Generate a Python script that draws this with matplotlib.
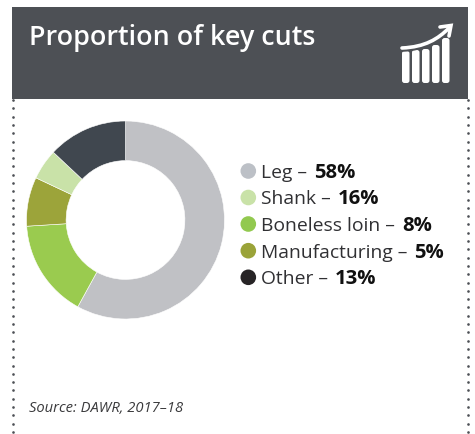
import matplotlib
matplotlib.use("Agg")
import matplotlib.pyplot as plt
from matplotlib.patches import Rectangle, FancyBboxPatch, PathPatch, Circle
from matplotlib.path import Path
import numpy as np

W, H = 475, 434

title = "Proportion of key cuts"
source = "Source: DAWR, 2017–18"
cuts = ["Leg", "Shank", "Boneless loin", "Manufacturing", "Other"]
shares = [58, 16, 8, 5, 13]
legend_colors = ["#bcc0c6", "#c9e2a8", "#92c94f", "#9aa339", "#272426"]
slice_colors = ["#c0c1c5", "#9acb4f", "#9ca43a", "#c9e2a8", "#40474f"]

plt.rcParams["font.family"] = ["Open Sans", "DejaVu Sans"]

fig = plt.figure(figsize=(W / 100, H / 100), dpi=100, facecolor="white")

# page layer in pixel units, y running downward
page = fig.add_axes([0, 0, 1, 1])
page.set_xlim(0, W)
page.set_ylim(H, 0)
page.axis("off")

page.add_patch(Rectangle((12, 7), 456, 92, fc="#4d5055", ec="none"))
page.text(29, 38.5, title, color="white", fontsize=19.35, fontweight="semibold",
          va="center", ha="left")

# dotted side rules
for x in (13.3, 468):
    ys = np.arange(100, H, 8.3)
    page.scatter(np.full_like(ys, x), ys, s=3.6, color="#4d5055", linewidths=0, zorder=3)

# rising bars icon
for bx, top in zip((402, 412, 422, 432, 442), (51, 50, 49, 45, 38)):
    page.add_patch(FancyBboxPatch((bx + 2.5, top + 2.5), 2.5, 83 - top - 5,
                                  boxstyle="round,pad=2.5,rounding_size=2.5",
                                  fc="white", ec="none"))
arrow = Path([(402, 48), (425, 47), (438, 39), (449, 28)],
             [Path.MOVETO, Path.CURVE4, Path.CURVE4, Path.CURVE4])
page.add_patch(PathPatch(arrow, fc="none", ec="#4d5055", lw=5.5, capstyle="round"))
page.add_patch(PathPatch(arrow, fc="none", ec="white", lw=2.6, capstyle="round"))
page.add_patch(PathPatch(Path([(440, 27), (451, 25.5), (449, 36)]), fc="none", ec="white",
                         lw=2.6, capstyle="round", joinstyle="miter"))

# donut
R = 99
cx, cy = 125.5, 220
donut = fig.add_axes([(cx - R) / W, 1 - (cy + R) / H, 2 * R / W, 2 * R / H])
donut.pie(shares, colors=slice_colors, startangle=90, counterclock=False, radius=1,
          wedgeprops=dict(width=0.4, edgecolor="white", linewidth=0.4))
donut.set_xlim(-1, 1)
donut.set_ylim(-1, 1)

# legend entries
row_y = [171, 197.5, 224, 250.7, 277.3]
renderer = fig.canvas.get_renderer()
for y, name, val, col in zip(row_y, cuts, shares, legend_colors):
    page.add_patch(Circle((248.3, y), 7.8, fc=col, ec="none"))
    t = page.text(261, y + 2, f"{name} – ", fontsize=13.9, color="#303033", va="center", ha="left")
    x1 = t.get_window_extent(renderer).x1
    page.text(x1 + 2, y + 2, f"{val}%", fontsize=14.6, color="#111111", fontweight="bold",
              va="center", ha="left")

page.text(29, 408, source, fontsize=10.6, fontstyle="italic", color="#3a3a3c",
          va="center", ha="left")

fig.savefig("out.png", dpi=100)
